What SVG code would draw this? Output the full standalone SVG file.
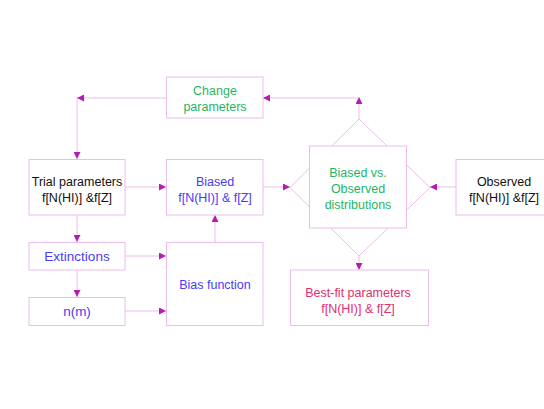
<svg xmlns="http://www.w3.org/2000/svg" width="544" height="409" viewBox="0 0 544 409">
<defs>
<style>
.box{fill:#ffffff;stroke:#ecbdec;stroke-width:1}
.ln{fill:none;stroke:#ecbdec;stroke-width:1}
text{font-family:"Comic Sans MS","Liberation Sans",sans-serif;font-size:12.5px;text-anchor:middle}
.g{fill:#1fb565}
.b{fill:#4a3cf5}
.k{fill:#111111}
.p{fill:#e0306e}
</style>
<marker id="ah" viewBox="0 0 10 10" refX="10" refY="5" markerWidth="7" markerHeight="7" markerUnits="userSpaceOnUse" orient="auto">
<path d="M0,0 L10,5 L0,10 z" fill="#b31db3"/>
</marker>
</defs>
<rect width="544" height="409" fill="#ffffff"/>
<g id="connectors">
<line class="ln" x1="77" y1="98" x2="77" y2="159" marker-end="url(#ah)"/>
<line class="ln" x1="166" y1="98" x2="77" y2="98" marker-end="url(#ah)"/>
<line class="ln" x1="359" y1="119" x2="359" y2="97" marker-end="url(#ah)"/>
<line class="ln" x1="359" y1="98" x2="263" y2="98" marker-end="url(#ah)"/>
<line class="ln" x1="125" y1="187" x2="166" y2="187" marker-end="url(#ah)"/>
<line class="ln" x1="263" y1="187" x2="290" y2="187" marker-end="url(#ah)"/>
<line class="ln" x1="456" y1="187" x2="430" y2="187" marker-end="url(#ah)"/>
<line class="ln" x1="77" y1="215" x2="77" y2="242" marker-end="url(#ah)"/>
<line class="ln" x1="77" y1="270" x2="77" y2="297" marker-end="url(#ah)"/>
<line class="ln" x1="125" y1="256" x2="166" y2="256" marker-end="url(#ah)"/>
<line class="ln" x1="125" y1="311" x2="166" y2="311" marker-end="url(#ah)"/>
<line class="ln" x1="215" y1="242" x2="215" y2="215" marker-end="url(#ah)"/>
<line class="ln" x1="359" y1="256" x2="359" y2="270" marker-end="url(#ah)"/>
</g>
<g id="change">
<rect class="box" x="166.5" y="77" width="96.5" height="41"/>
<text class="g" x="215" y="95">Change</text>
<text class="g" x="215" y="111">parameters</text>
</g>
<g id="trial">
<rect class="box" x="29" y="159.5" width="96" height="55.5"/>
<text class="k" x="77" y="186">Trial parameters</text>
<text class="k" x="77" y="202">f[N(HI)] &amp;f[Z]</text>
</g>
<g id="biased">
<rect class="box" x="166.5" y="159.5" width="96.5" height="55.5"/>
<text class="b" x="215" y="186">Biased</text>
<text class="b" x="215" y="202">f[N(HI)] &amp; f[Z]</text>
</g>
<g id="compare">
<polygon class="box" points="359,119 430,187.5 359,256 290,187.5"/>
<rect class="box" x="309.5" y="146" width="97" height="82"/>
<text class="g" x="358" y="177">Biased vs.</text>
<text class="g" x="358" y="193">Observed</text>
<text class="g" x="358" y="209">distributions</text>
</g>
<g id="observed">
<rect class="box" x="456" y="159.5" width="96" height="55.5"/>
<text class="k" x="504" y="186">Observed</text>
<text class="k" x="504" y="202">f[N(HI)] &amp;f[Z]</text>
</g>
<g id="extinctions">
<rect class="box" x="29" y="242.5" width="96" height="27.5"/>
<text class="b" x="77" y="261" style="font-size:13.5px">Extinctions</text>
</g>
<g id="nm">
<rect class="box" x="29" y="297.5" width="96" height="28"/>
<text class="b" x="77" y="316" style="font-size:13.5px">n(m)</text>
</g>
<g id="biasfunction">
<rect class="box" x="166.5" y="242.5" width="96.5" height="83"/>
<text class="b" x="215" y="289">Bias function</text>
</g>
<g id="bestfit">
<rect class="box" x="290.5" y="270" width="138" height="55.5"/>
<text class="p" x="358" y="297">Best-fit parameters</text>
<text class="p" x="358" y="313">f[N(HI)] &amp; f[Z]</text>
</g>
</svg>
